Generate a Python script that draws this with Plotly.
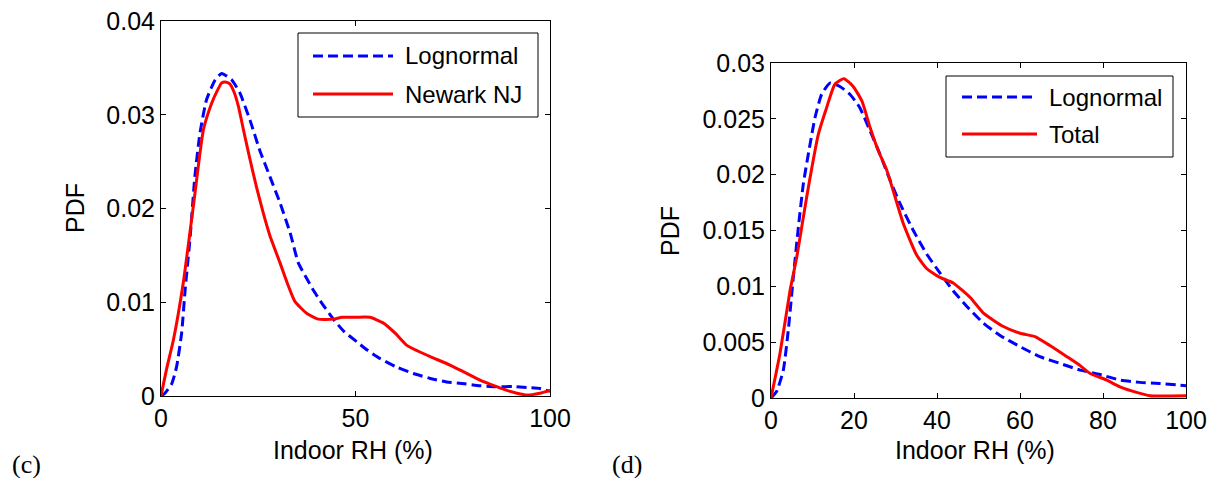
import plotly.graph_objects as go

W, H = 1213, 478

# ---------------- data ----------------
# Panel (c)
c_logn_x = [0, 1.0, 2.75, 4.0, 5.3, 6.2, 7.5, 8.7, 10.0, 11.7, 13.9, 15.6, 18.2, 20.3, 22.9, 25.4, 28.0, 30.6,
            33.2, 35.3, 37.5, 39.3, 41.5, 44.3, 47.0, 50.3, 53.0, 56.3, 60.5, 64.9, 69.0, 73.4, 78.0, 82.0, 86.0,
            90.6, 94.0, 97.4, 100]
c_logn_y = [0, 0.0003, 0.0013, 0.0031, 0.0067, 0.0113, 0.0170, 0.0234, 0.0280, 0.0316, 0.0337, 0.0344, 0.0337,
            0.0323, 0.0294, 0.0262, 0.0234, 0.0206, 0.0174, 0.0142, 0.0125, 0.0112, 0.0098, 0.0082, 0.0069, 0.0058,
            0.0049, 0.0040, 0.0031, 0.0024, 0.0019, 0.0015, 0.0013, 0.0011, 0.0010, 0.0010, 0.0009, 0.0008, 0.0005]
c_obs_x = [0, 1.5, 3.2, 5.7, 8.3, 10.9, 13.0, 14.5, 15.6, 16.5, 17.7, 18.8, 19.9, 21.4, 22.9, 24.6, 26.3, 28.0,
           30.6, 32.5, 34.4, 37.5, 40.4, 44.3, 46.5, 50.0, 53.7, 57.1, 60.2, 63.2, 66.0, 69.2, 74.3, 77.7, 82.0,
           86.3, 88.9, 91.5, 94.0, 97.4, 100]
c_obs_y = [0, 0.0030, 0.0060, 0.0120, 0.0202, 0.0284, 0.0312, 0.0326, 0.0334, 0.0335, 0.0333, 0.0324, 0.0309,
           0.0280, 0.0252, 0.0222, 0.0195, 0.0171, 0.0142, 0.0120, 0.0101, 0.0088, 0.0082, 0.0082, 0.0084, 0.0084,
           0.0084, 0.0078, 0.0067, 0.0054, 0.0048, 0.0042, 0.0033, 0.0026, 0.0017, 0.0010, 0.0006, 0.0003, 0.0001,
           0.0003, 0.0006]

# Panel (d)
d_logn_x = [0, 1.37, 2.97, 4.17, 5.37, 6.6, 7.8, 9.4, 10.6, 12.2, 14.2, 16.6, 19.0, 21.4, 23.9, 26.3, 28.7, 31.1,
            34.3, 37.5, 40.7, 43.9, 47.2, 51.2, 55.2, 60.0, 64.8, 69.6, 74.5, 79.3, 84.1, 88.9, 93.7, 100]
d_logn_y = [0, 0.0006, 0.0025, 0.0061, 0.0108, 0.0153, 0.0192, 0.0227, 0.0251, 0.0272, 0.0282, 0.0279, 0.0272,
            0.0260, 0.0239, 0.0218, 0.0195, 0.0174, 0.0150, 0.0129, 0.0112, 0.0096, 0.0082, 0.0067, 0.0056, 0.0046,
            0.0037, 0.0031, 0.0025, 0.0021, 0.0016, 0.0014, 0.0013, 0.0011]
d_obs_x = [0, 2.17, 4.58, 6.2, 8.6, 11.4, 13.4, 15.4, 17.6, 19.8, 21.9, 23.9, 25.9, 27.9, 29.9, 31.9, 35.1, 37.5,
           40.7, 43.9, 48.0, 51.2, 56.0, 60.0, 63.6, 67.2, 71.3, 74.5, 76.9, 80.9, 84.1, 88.1, 91.3, 100]
d_obs_y = [0, 0.0040, 0.0096, 0.0126, 0.0180, 0.0236, 0.0260, 0.0281, 0.0286, 0.0279, 0.0266, 0.0242, 0.0221,
           0.0204, 0.0180, 0.0156, 0.0128, 0.0116, 0.0108, 0.0103, 0.0090, 0.0076, 0.0064, 0.0058, 0.0055, 0.0047,
           0.0037, 0.0029, 0.0022, 0.0016, 0.0010, 0.0005, 0.0002, 0.0002]

c_xticks = [0, 50, 100]
c_yticks = [0, 0.01, 0.02, 0.03, 0.04]
c_yticktext = ["0", "0.01", "0.02", "0.03", "0.04"]
d_xticks = [0, 20, 40, 60, 80, 100]
d_yticks = [0, 0.005, 0.01, 0.015, 0.02, 0.025, 0.03]
d_yticktext = ["0", "0.005", "0.01", "0.015", "0.02", "0.025", "0.03"]

series_names_c = ["Lognormal", "Newark NJ"]
series_names_d = ["Lognormal", "Total"]
panel_labels = ["(c)", "(d)"]
x_title = "Indoor RH (%)"
y_title = "PDF"

BLUE = "rgb(0,0,255)"
RED = "rgb(255,0,0)"
SANS = "Arial, Liberation Sans, Helvetica, sans-serif"
SERIF = "Times New Roman, Liberation Serif, serif"


def px(x):
    return x / W


def py(y):
    return 1 - y / H


fig = go.Figure()
dash = "10px,5px"
smooth = dict(shape="spline", smoothing=0.5)
fig.add_trace(go.Scatter(x=c_logn_x, y=c_logn_y, mode="lines", name=series_names_c[0],
                         line=dict(color=BLUE, width=3, dash=dash, **smooth), xaxis="x", yaxis="y",
                         showlegend=False))
fig.add_trace(go.Scatter(x=c_obs_x, y=c_obs_y, mode="lines", name=series_names_c[1],
                         line=dict(color=RED, width=3, **smooth), xaxis="x", yaxis="y", showlegend=False))
fig.add_trace(go.Scatter(x=d_logn_x, y=d_logn_y, mode="lines", name=series_names_d[0],
                         line=dict(color=BLUE, width=3, dash=dash, **smooth), xaxis="x2", yaxis="y2",
                         showlegend=False))
fig.add_trace(go.Scatter(x=d_obs_x, y=d_obs_y, mode="lines", name=series_names_d[1],
                         line=dict(color=RED, width=3, **smooth), xaxis="x2", yaxis="y2", showlegend=False))

# axes pixel boxes
c_box = (161, 550, 21, 396)
d_box = (771, 1186, 63, 398)


def axis_common():
    return dict(showline=True, linecolor="black", linewidth=1, mirror="allticks", ticks="inside",
                ticklen=5, tickcolor="black", showgrid=False, zeroline=False, automargin=False,
                tickfont=dict(family=SANS, size=25, color="black"))


fig.update_layout(
    template="none",
    width=W, height=H, margin=dict(l=0, r=0, t=0, b=0, pad=0, autoexpand=False),
    paper_bgcolor="white", plot_bgcolor="white", showlegend=False,
    xaxis=dict(domain=[px(c_box[0]), px(c_box[1])], range=[0, 100], tickvals=c_xticks,
               anchor="y", **axis_common()),
    yaxis=dict(domain=[py(c_box[3]), py(c_box[2])], range=[0, 0.04], tickvals=c_yticks,
               ticktext=c_yticktext, anchor="x", **axis_common()),
    xaxis2=dict(domain=[px(d_box[0]), px(d_box[1])], range=[0, 100], tickvals=d_xticks,
                anchor="y2", **axis_common()),
    yaxis2=dict(domain=[py(d_box[3]), py(d_box[2])], range=[0, 0.03], tickvals=d_yticks,
                ticktext=d_yticktext, anchor="x2", **axis_common()),
)

ann = []
shapes = []
# axis titles and panel labels
for box, lab, lx in [(c_box, panel_labels[0], 10), (d_box, panel_labels[1], 610)]:
    ann.append(dict(x=px((box[0] + box[1]) / 2 - 3), y=py(450), xref="paper", yref="paper", text=x_title,
                    showarrow=False, xanchor="center", yanchor="middle",
                    font=dict(family=SANS, size=25, color="black")))
    ann.append(dict(x=px(lx), y=py(464), xref="paper", yref="paper", text=lab, showarrow=False,
                    xanchor="left", yanchor="middle", font=dict(family=SERIF, size=26, color="black")))
ann.append(dict(x=px(75), y=py(208), xref="paper", yref="paper", text=y_title, textangle=-90,
                showarrow=False, xanchor="center", yanchor="middle",
                font=dict(family=SANS, size=25, color="black")))
ann.append(dict(x=px(670), y=py(231), xref="paper", yref="paper", text=y_title, textangle=-90,
                showarrow=False, xanchor="center", yanchor="middle",
                font=dict(family=SANS, size=25, color="black")))

# legends (custom boxes to match long line samples)
legends = [
    dict(box=(298, 538, 33, 117), lines=(313, 393), ys=(56, 94), tx=403, names=series_names_c),
    dict(box=(946, 1173, 76, 157), lines=(962, 1037), ys=(97, 134), tx=1047, names=series_names_d),
]
for lg in legends:
    x0, x1, y0, y1 = lg["box"]
    shapes.append(dict(type="rect", xref="paper", yref="paper", x0=px(x0), x1=px(x1), y0=py(y1), y1=py(y0),
                       line=dict(color="black", width=1), fillcolor="white", layer="above"))
    for i, (col, dsh) in enumerate([(BLUE, dash), (RED, "solid")]):
        yy = lg["ys"][i]
        shapes.append(dict(type="line", xref="paper", yref="paper", x0=px(lg["lines"][0]), x1=px(lg["lines"][1]),
                           y0=py(yy), y1=py(yy), line=dict(color=col, width=3, dash=dsh), layer="above"))
        ann.append(dict(x=px(lg["tx"]), y=py(yy), xref="paper", yref="paper", text=lg["names"][i],
                        showarrow=False, xanchor="left", yanchor="middle",
                        font=dict(family=SANS, size=24, color="black")))

fig.update_layout(annotations=ann, shapes=shapes)
fig.write_html("out.html")
